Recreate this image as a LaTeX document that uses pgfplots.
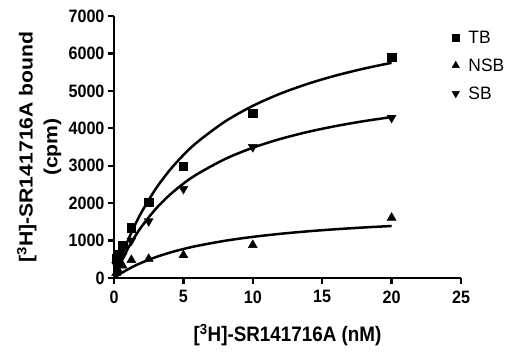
\documentclass[border=0pt]{standalone}
\usepackage{fontspec}
\setmainfont{Liberation Sans}[FakeStretch=0.9]
\newfontfamily\ylabfont{Liberation Sans}[FakeStretch=1.12]
\newfontfamily\legfont{Liberation Sans}[FakeStretch=0.97]
\newfontfamily\tickfont{Liberation Sans}[FakeStretch=0.9]
\usepackage{pgfplots}
\pgfplotsset{compat=1.18}
\begin{document}
\begin{tikzpicture}
\begin{axis}[
  at={(0,0)}, anchor=origin,
  scale only axis, width=347bp, height=262bp,
  xmin=0, xmax=25, ymin=0, ymax=7000,
  axis lines=left, axis line style={-, line width=2.7bp},
  xtick={0,5,10,15,20,25}, ytick={0,1000,...,7000},
  tick style={line width=2.4bp, black}, tick align=outside, major tick length=6bp,
  tick label style={font=\tickfont\fontsize{18}{20}\selectfont\bfseries},
  xticklabel style={yshift=-3bp},
  yticklabel style={xshift=0bp},
  /pgf/number format/assume math mode=true,
  /pgf/number format/1000 sep={},
  scaled y ticks=false,
  xlabel={[\textsuperscript{3}H]-SR141716A (nM)},
  xlabel style={font=\fontsize{21}{24}\selectfont\bfseries, at={(axis description cs:0.5,0)}, anchor=center, yshift=-57bp},
  ylabel={\begin{tabular}{c}[\textsuperscript{3}H]-SR141716A bound\\(cpm)\end{tabular}},
  ylabel style={font=\ylabfont\fontsize{19}{25}\selectfont\bfseries, at={(axis description cs:0,0.5)}, anchor=center, rotate=0, yshift=74bp},
  clip=false,
  legend style={at={(axis description cs:0.965,0.96)}, anchor=north west, draw=none, fill=none,
    font=\legfont\fontsize{18}{20}\selectfont, row sep=10bp, column sep=7bp},
  legend cell align=left,
]
\addplot[only marks, mark=square*, mark size=4.2bp, black, legend image post style={mark size=3.3bp}] coordinates {
 (0.156,520) (0.3125,620) (0.625,880) (1.25,1340) (2.5,2030) (5,2995) (10,4410) (20,5900)};
\addlegendentry{TB}
\addplot[only marks, mark=triangle*, mark size=5.2bp, black, legend image post style={mark size=4.3bp}] coordinates {
 (0.156,130) (0.3125,200) (0.625,330) (1.25,480) (2.5,510) (5,610) (10,880) (20,1610)};
\addlegendentry{NSB}
\addplot[only marks, mark=triangle*, mark options={rotate=180}, mark size=5.2bp, black, legend image post style={mark size=4.3bp}] coordinates {
 (0.156,350) (0.3125,450) (0.625,600) (1.25,1000) (2.5,1520) (5,2380) (10,3500) (20,4280)};
\addlegendentry{SB}
\addplot[forget plot, black, line width=2.5bp, smooth] coordinates {
 (0,0) (0.25,277.0) (0.5,534.7) (1,999.6) (1.5,1407.6) (2,1768.6) (3,2378.6) (4,2874.2) (5,3284.9) (6,3630.8) (8,4181.1) (10,4599.3) (12,4927.9) (14,5192.9) (16,5411.2) (18,5594.1) (20,5749.5)};
\addplot[forget plot, black, line width=2.5bp, smooth] coordinates {
 (0,0) (0.25,219.6) (0.5,422.7) (1,786.3) (1.5,1102.4) (2,1379.6) (3,1843.3) (4,2215.6) (5,2521.1) (6,2776.3) (8,3178.5) (10,3481.1) (12,3717.0) (14,3906.1) (16,4061.0) (18,4190.3) (20,4299.8)};
\addplot[forget plot, black, line width=2.5bp, smooth] coordinates {
 (0,0) (0.25,63.4) (0.5,122.7) (1,230.5) (1.5,325.9) (2,410.9) (3,555.9) (4,675) (5,774.6) (6,859.1) (8,994.7) (10,1098.8) (12,1181.3) (14,1248.1) (16,1303.4) (18,1350) (20,1389.7)};
\end{axis}
\path[use as bounding box] (-114bp,-82bp) rectangle (410bp,278bp);
\end{tikzpicture}
\end{document}
